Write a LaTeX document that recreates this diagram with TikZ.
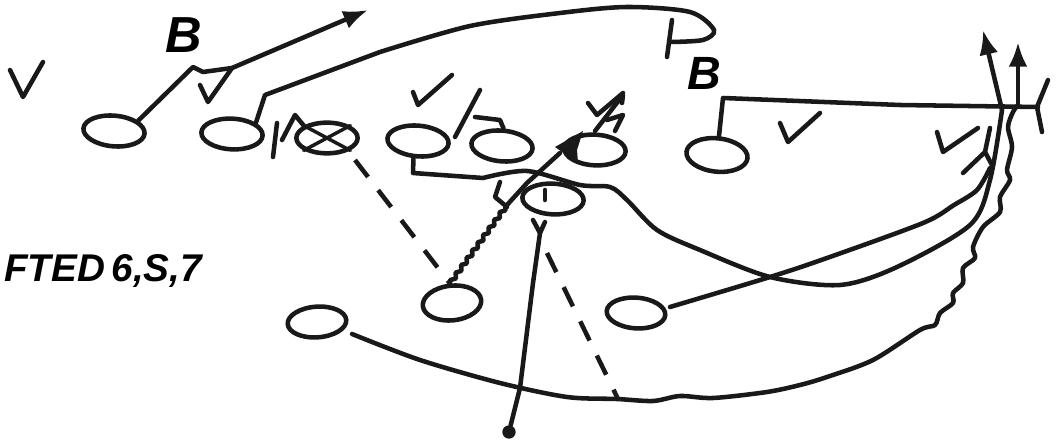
\documentclass[tikz,border=0pt]{standalone}
\usepackage{xcolor}
\usepackage{fontspec}
\setmainfont{Liberation Sans}
\usetikzlibrary{positioning,arrows.meta,shapes.geometric,decorations.pathmorphing}
\begin{document}
\begin{tikzpicture}[
    x=0.75pt,y=-0.75pt,
    ink/.style={line width=3.4pt,line join=round,line cap=round,black!90},
    thinink/.style={line width=2.6pt,line join=round,line cap=round,black!90},
    player/.style={draw=black!90,ellipse,line width=3.4pt,inner sep=0pt,minimum width=46pt,minimum height=23pt},
    route/.style={ink,-{Latex[length=6.5mm,width=5mm]}},
    wavy/.style={ink,decorate,decoration={snake,amplitude=1.4pt,segment length=7pt}},
    dashline/.style={ink,dash pattern=on 16pt off 12.5pt,line cap=butt},
    hand/.style={font=\bfseries\itshape\fontsize{#1}{#1}\selectfont,inner sep=0pt}
  ]
    \useasboundingbox (0,0) rectangle (1060,441);
    % players
    \node[player,rotate=-5] (lt) at (114,131) {};
    \node[player,rotate=-3] (lg) at (232,134) {};
    \node[player] (ctr) at (327,138) {};
    \node[player,rotate=-5] (rg) at (418,141) {};
    \node[player,rotate=-5] (rt) at (502,146) {};
    \node[player,rotate=-3] (te) at (595,150) {};
    \node[player,rotate=-3] (qb) at (553,199) {};
    \node[player,minimum height=25pt,rotate=-6] (wr) at (717,155) {};
    \node[player,minimum width=44pt,minimum height=26pt,rotate=6] (fb) at (452,303) {};
    \node[player,minimum width=44pt,rotate=-4] (hb) at (636,313) {};
    \node[player,minimum width=44pt,rotate=4] (sb) at (317,322) {};
    \node[circle,fill=black!90,inner sep=0pt,minimum size=10pt] (dot) at (509,432) {};
    % play label and blocks
    \node[hand=29,anchor=base west] (calls) at (4,282) {FTED\,6,S,7};
    \node[hand=38,anchor=base] (blk) at (184,53) {B};
    \node[hand=35,anchor=base] (brt) at (704,90) {B};
    % check marks
    \foreach \px/\py/\qx/\qy/\rx/\ry in {10/70/23/97/43/62,200/85/208/102/232/68,413/92/418/105/452/75,
        588/103/597/115/623/93,780/123/788/142/820/113,937/132/943/152/978/128} {
      \draw[ink] (\px,\py) -- (\qx,\qy) -- (\rx,\ry);
    }
    \draw[ink] (533,220) -- (540,233) -- (545,222);
    % crossed centre
    \draw[thinink] (ctr.north west) -- (ctr.south east);
    \draw[thinink] (ctr.north east) -- (ctr.south west);
    \draw[ink] (277,123) -- (273,157);
    \draw[ink] (282,140) -- (295,115) -- (ctr.north west);
    % left side routes
    \coordinate (kinkl) at (193,67);
    \coordinate (kinkb) at (265,95);
    \coordinate (endp) at (670,42);
    \coordinate (aimtop) at (368,10);
    \draw[route] (lt.north east) -- (kinkl) -- (203,72) -- (232,68) -- (aimtop);
    \draw[ink] (lg.north east) -- (kinkb) -- (380,52) plot[smooth] coordinates {(380,52) (470,26) (560,13) (627,7) (690,12) (714,30) (703,40) (endp)};
    \draw[ink] (672,20) -- (667,57);
    % inside blocks
    \coordinate (stubd) at (475,117);
    \draw[ink] (rt.north) -- (500,120) -- (stubd);
    \draw[ink] (455,137) -- (480,90);
    \draw[ink] (rg.south) ++(-3,0) -- (413,173) -- (483,178) plot[smooth] coordinates {(483,178) (527,171) (580,185) (610,187) (627,200) (657,230) (700,250) (770,277) (840,285) (897,267) (970,225) (990,180) (1002,110)};
    \coordinate (topa) at (983,30);
    \coordinate (topb) at (1018,42);
    \draw[route] (1002,110) -- (topa);
    \draw[route] (1018,105) -- (topb);
    \draw[ink] (595,131) -- (623,95) -- (622,103);
    \draw[ink] (615,131) -- (623,115) -- (607,120);
    \fill[black!90] (555,147) -- (583,131) -- (577,150) -- (578,163) -- cycle;
    \draw[ink] (wr.north) -- (723,98) -- (900,105) -- (1038,107);
    \draw[ink] (1048,80) -- (1037,107) -- (1042,132);
    \draw[ink] (hb.east) plot[smooth] coordinates {(670,307) (770,277) (827,258) (923,223) (954,205) (977,190) (990,168)};
    \draw[ink] (990,128) -- (985,152) -- (963,173);
    \draw[ink] (985,152) -- (992,165);
    % backfield
    \draw[wavy] (fb.north) -- (507,205);
    \draw[ink] (507,205) -- (527,183) -- (560,153);
    \draw[ink] (500,182) -- (495,197) -- (507,207);
    \draw[ink] (545,200) -- (545,190);
    \draw[dashline] (355,160) -- (fb.north);
    \coordinate (dashtop) at (547,253);
    \coordinate (dashend) at (618,399);
    \draw[dashline] (dashtop) -- (dashend);
    \draw[ink] (dot) -- (520,388) -- (533,283) -- (540,233);
    \draw[ink] (sb.south east) plot[smooth] coordinates {(352,334) (420,360) (500,383) (567,397) (617,399) (653,401) (680,396) (713,398) (767,392) (800,385) (827,377) (873,360) (920,330) (935,325) (940,313) (953,303) (953,293) (963,283) (963,268) (975,258) (973,247) (983,227) (1000,212) (1000,197) (1010,180) (1007,170) (1012,147) (1008,127) (1013,112) (1018,105)};
  \end{tikzpicture}
\end{document}
